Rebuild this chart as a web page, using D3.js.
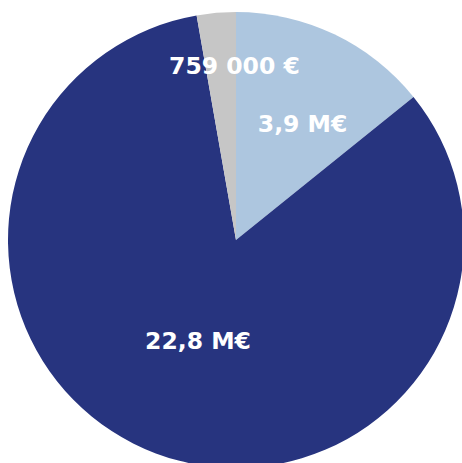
<!DOCTYPE html>
<html><head><meta charset="utf-8">
<script src="https://cdn.jsdelivr.net/npm/d3@7"></script>
<style>html,body{margin:0;padding:0;background:#fff;}svg{display:block;}</style>
</head><body>
<svg id="chart" width="462" height="463"></svg>
<script>
const categories = ["A", "B", "C"];
const values = [3.9, 22.8, 0.759];
const labels = ["3,9 M€", "22,8 M€", "759 000 €"];
const colors = ["#adc6df", "#27347f", "#c6c6c6"];

const svg = d3.select("#chart");
const cx = 236, cy = 240, R = 228;
const labelR = [134, 108, 174];
const labelA = [0.52, null, -0.009];
const g = svg.append("g").attr("transform", `translate(${cx},${cy})`);
const pie = d3.pie().sort(null).value(d => d)(values);
const arc = d3.arc().innerRadius(0).outerRadius(R);
g.selectAll("path").data(pie).enter().append("path")
  .attr("d", arc).attr("fill", (d, i) => colors[i]);
g.selectAll("text").data(pie).enter().append("text")
  .attr("transform", (d, i) => {
    const a = labelA[i] !== null ? labelA[i] : (d.startAngle + d.endAngle) / 2;
    return `translate(${Math.sin(a) * labelR[i]},${-Math.cos(a) * labelR[i]})`;
  })
  .attr("text-anchor", "middle").attr("dy", "0.35em")
  .attr("fill", "#fff").attr("font-family", "DejaVu Sans, sans-serif")
  .attr("font-weight", "bold").attr("font-size", 23.5)
  .text((d, i) => labels[i]);
</script>
</body></html>
